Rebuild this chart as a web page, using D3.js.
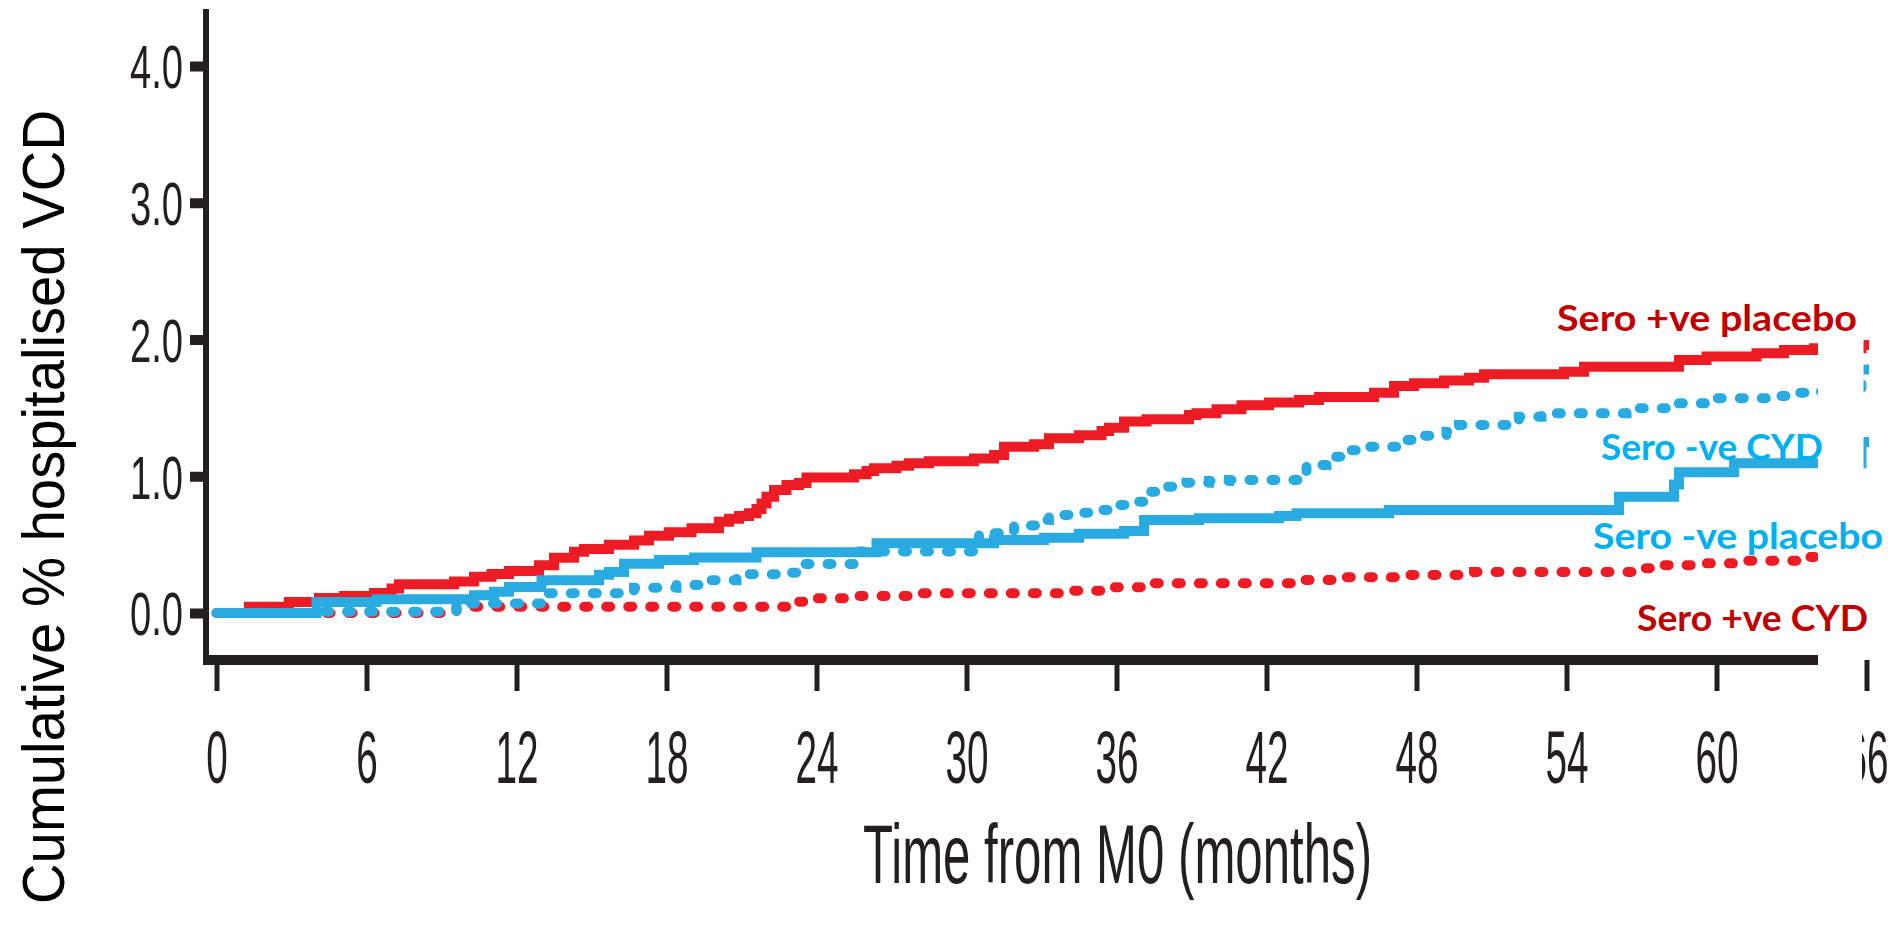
<!DOCTYPE html>
<html><head><meta charset="utf-8">
<script src="https://cdn.jsdelivr.net/npm/d3@7"></script>
<style>html,body{margin:0;padding:0;background:#fff;overflow:hidden}</style>
</head><body><svg id="c" width="1898" height="925"></svg>
<script>
// ---- data ----
const xTicks = [0, 6, 12, 18, 24, 30, 36, 42, 48, 54, 60, 66];
const yTicks = [0, 1, 2, 3, 4];
const xTitle = "Time from M0 (months)";
const yTitle = "Cumulative % hospitalised VCD";
const seriesNames = ["Sero +ve placebo", "Sero -ve CYD", "Sero -ve placebo", "Sero +ve CYD"];

// [month, cumulative %] step points
const seroPosPlacebo = [[0,0],[1.3,0.045],[2.9,0.08],[4.1,0.11],[5.1,0.125],[6.3,0.146],[7.0,0.18],[7.3,0.21],[9.5,0.23],[10.3,0.265],[11.0,0.285],[11.7,0.307],[12.9,0.35],[13.5,0.404],[14.3,0.448],[14.7,0.468],[15.7,0.50],[16.7,0.53],[17.3,0.565],[18.1,0.59],[19.0,0.62],[20.1,0.668],[20.5,0.69],[20.9,0.71],[21.3,0.73],[21.6,0.76],[21.8,0.80],[22.0,0.85],[22.3,0.90],[22.8,0.936],[23.3,0.95],[23.6,0.99],[25.5,1.014],[26.0,1.038],[26.3,1.058],[27.2,1.077],[27.7,1.095],[28.5,1.11],[30.3,1.13],[31.1,1.155],[31.5,1.216],[32.7,1.234],[33.3,1.277],[34.5,1.30],[35.4,1.33],[35.7,1.355],[36.3,1.40],[37.2,1.416],[38.9,1.448],[39.2,1.46],[40.0,1.49],[41.0,1.52],[42.1,1.54],[43.3,1.558],[44.1,1.58],[46.3,1.61],[47.1,1.66],[47.9,1.68],[49.1,1.70],[50.1,1.72],[50.7,1.745],[53.9,1.765],[54.7,1.80],[58.5,1.85],[59.6,1.875],[61.6,1.90],[62.7,1.923],[63.9,1.936],[65.8,1.96],[66.2,1.96]];
const seroNegPlacebo = [[0,0],[4.0,0.08],[6.4,0.10],[10.3,0.13],[11.1,0.155],[11.7,0.19],[13.0,0.24],[15.3,0.28],[15.7,0.30],[16.3,0.36],[17.7,0.388],[19.1,0.405],[21.6,0.444],[26.4,0.51],[31.1,0.534],[33.1,0.55],[34.5,0.58],[36.3,0.60],[37.1,0.68],[39.3,0.692],[42.5,0.71],[43.2,0.73],[46.9,0.753],[56.1,0.85],[58.3,0.94],[58.5,1.03],[60.7,1.095],[65.8,1.25],[66.2,1.25]];
const seroNegCYD = [[0,0],[4.2,0.01],[9.6,0.07],[13.1,0.144],[16.7,0.185],[18.4,0.205],[19.3,0.24],[20.8,0.283],[22.5,0.295],[23.3,0.358],[25.6,0.45],[30.5,0.583],[31.9,0.64],[32.8,0.68],[33.3,0.717],[34.1,0.733],[35.1,0.753],[35.7,0.79],[36.6,0.814],[37.2,0.887],[38.0,0.924],[38.8,0.953],[39.7,0.965],[40.5,0.973],[43.6,1.082],[44.4,1.143],[45.1,1.19],[45.9,1.216],[47.6,1.265],[48.3,1.297],[49.2,1.326],[49.7,1.375],[52.1,1.435],[53.0,1.46],[56.4,1.497],[58.0,1.533],[59.7,1.57],[62.3,1.587],[62.9,1.61],[63.7,1.62],[65.8,1.78],[66.2,1.78]];
const seroPosCYD = [[0,0],[9.6,0.046],[23.1,0.083],[23.9,0.107],[25.6,0.124],[28.1,0.144],[34.0,0.163],[35.7,0.188],[37.3,0.217],[43.5,0.241],[45.1,0.261],[47.7,0.278],[50.3,0.30],[56.9,0.327],[57.7,0.35],[59.5,0.363],[61.1,0.382],[63.7,0.41],[66.2,0.41]];

const axisEnd = 64.06;   // month where the drawn x-axis line stops
const gapEnd = 65.82;    // month where the blanked band ends

// ---- drawing ----
const svg = d3.select("#c");
const x = d3.scaleLinear().domain([0, 66]).range([216.5, 1866.5]);
const y = d3.scaleLinear().domain([0, 4]).range([613, 66]);

const defs = svg.append("defs");
const cp = defs.append("clipPath").attr("id", "lineClip");
cp.append("rect").attr("x", 0).attr("y", 0).attr("width", x(axisEnd)).attr("height", 700);
cp.append("rect").attr("x", x(gapEnd) + 1.5).attr("y", 0).attr("width", x(66.1) - x(gapEnd) - 1.5).attr("height", 700);
const cp2 = defs.append("clipPath").attr("id", "labClip");
cp2.append("rect").attr("x", 0).attr("y", 0).attr("width", x(axisEnd)).attr("height", 925);
cp2.append("rect").attr("x", x(gapEnd)).attr("y", 0).attr("width", 100).attr("height", 925);

const ink = "#231f20";
const axisFont = "'Liberation Sans', Arial, sans-serif";

// y axis
const yAxis = svg.append("g").attr("transform", "translate(206,0)")
  .call(d3.axisLeft(y).tickValues(yTicks).tickSize(16).tickPadding(7).tickFormat(d3.format(".1f")));
yAxis.select(".domain").remove();
yAxis.selectAll(".tick line").attr("stroke", ink).attr("stroke-width", 10);
yAxis.selectAll(".tick text").attr("fill", ink).attr("font-family", axisFont)
  .attr("font-size", 61).attr("dy", "0.36em")
  .attr("textLength", 53).attr("lengthAdjust", "spacingAndGlyphs");
svg.append("line").attr("x1", 206).attr("x2", 206).attr("y1", 9).attr("y2", 665)
  .attr("stroke", ink).attr("stroke-width", 6);

// x axis
const xAxis = svg.append("g").attr("transform", "translate(0,660)").attr("clip-path", "url(#labClip)")
  .call(d3.axisBottom(x).tickValues(xTicks).tickSize(31).tickPadding(39));
xAxis.select(".domain").remove();
xAxis.selectAll(".tick line").attr("stroke", ink).attr("stroke-width", 5);
xAxis.selectAll(".tick text").attr("fill", ink).attr("font-family", axisFont)
  .attr("font-size", 75).attr("dy", "0.71em")
  .attr("textLength", d => String(d).length * 21.5).attr("lengthAdjust", "spacingAndGlyphs");
svg.append("line").attr("x1", 203).attr("x2", x(axisEnd)).attr("y1", 660).attr("y2", 660)
  .attr("stroke", ink).attr("stroke-width", 10);

// lines
const line = d3.line().x(d => x(d[0])).y(d => y(d[1])).curve(d3.curveStepAfter);
const red = "#ed1c24", blue = "#29abe2";
const lines = [
  {data: seroPosCYD, color: red, dotted: true},
  {data: seroPosPlacebo, color: red, dotted: false},
  {data: seroNegCYD, color: blue, dotted: true},
  {data: seroNegPlacebo, color: blue, dotted: false}
];
const lg = svg.append("g").attr("clip-path", "url(#lineClip)");
lines.forEach(s => {
  lg.append("path").attr("d", line(s.data)).attr("fill", "none")
    .attr("stroke", s.color).attr("stroke-width", 10)
    .attr("stroke-linecap", s.dotted ? "round" : "butt")
    .attr("stroke-dasharray", s.dotted ? "4 18" : null);
});

// series labels
const labFont = "Lato, 'Open Sans', sans-serif";
const labs = [
  {t: seriesNames[0], x: 1557, y: 331, w: 300, c: "#c00000"},
  {t: seriesNames[1], x: 1601, y: 460, w: 222, c: "#00b0f0"},
  {t: seriesNames[2], x: 1593, y: 549, w: 290, c: "#00b0f0"},
  {t: seriesNames[3], x: 1637, y: 631, w: 231, c: "#c00000"}
];
labs.forEach(l => {
  svg.append("text").attr("x", l.x).attr("y", l.y).text(l.t)
    .attr("fill", l.c).attr("font-family", labFont).attr("font-weight", 700)
    .attr("font-size", 37).attr("textLength", l.w).attr("lengthAdjust", "spacingAndGlyphs");
});

// titles
svg.append("text").attr("x", 863).attr("y", 883).text(xTitle)
  .attr("fill", ink).attr("font-family", axisFont).attr("font-size", 84)
  .attr("textLength", 509).attr("lengthAdjust", "spacingAndGlyphs");
svg.append("text").attr("transform", "translate(64,904) rotate(-90)").text(yTitle)
  .attr("fill", "#000").attr("font-family", axisFont).attr("font-size", 59)
  .attr("textLength", 794).attr("lengthAdjust", "spacingAndGlyphs");
</script></body></html>
